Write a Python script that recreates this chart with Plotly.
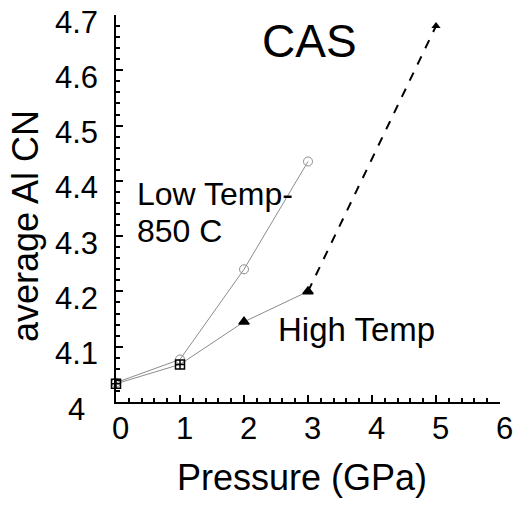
import plotly.graph_objects as go

# Pressure (GPa) and average Al coordination number
low_p = [0, 1, 2, 3]
low_cn = [4.035, 4.077, 4.240, 4.435]

high_p = [0, 1, 2, 3]
high_cn = [4.033, 4.068, 4.145, 4.200]

ext_p = [3, 5]
ext_cn = [4.200, 4.680]

high_symbols = ["square-cross-open", "square-cross-open", "triangle-up", "triangle-up"]

x_ticks = [0, 1, 2, 3, 4, 5, 6]
x_ticktext = ["0", "1", "2", "3", "4", "5", "6"]
y_ticks = [4, 4.1, 4.2, 4.3, 4.4, 4.5, 4.6, 4.7]
y_ticktext = ["4", "4.1", "4.2", "4.3", "4.4", "4.5", "4.6", "4.7"]

FONT = "Liberation Sans, Arial, sans-serif"

fig = go.Figure()

fig.add_trace(go.Scatter(
    x=low_p, y=low_cn, mode="lines+markers",
    line=dict(color="#8c8c8c", width=1),
    marker=dict(symbol="circle-open", size=9, color="#8c8c8c", line=dict(width=1)),
    showlegend=False, cliponaxis=False,
))

fig.add_trace(go.Scatter(
    x=ext_p, y=ext_cn, mode="lines+markers",
    line=dict(color="black", width=2, dash="dash"),
    marker=dict(symbol="triangle-up", size=8, color="black"),
    showlegend=False, cliponaxis=False,
))

fig.add_trace(go.Scatter(
    x=high_p, y=high_cn, mode="lines+markers",
    line=dict(color="#8c8c8c", width=1),
    marker=dict(symbol=high_symbols, size=9, color="black", line=dict(width=1.5, color="black")),
    showlegend=False, cliponaxis=False,
))

axis_common = dict(
    showline=True, linecolor="black", linewidth=2,
    ticks="inside", ticklen=7, tickwidth=1.5, tickcolor="black",
    showgrid=False, zeroline=False, showticklabels=False,
)

fig.update_xaxes(
    range=[0, 6], tickvals=x_ticks,
    minor=dict(dtick=0.2, ticks="inside", ticklen=4, tickwidth=1.5, tickcolor="black"),
    **axis_common,
)
fig.update_yaxes(
    range=[4, 4.7], tickvals=y_ticks,
    minor=dict(dtick=0.02, ticks="inside", ticklen=4, tickwidth=1.5, tickcolor="black"),
    **axis_common,
)

def label(text, x, y, size, xanchor="left", xref="x", yref="y", angle=0, xshift=0, yshift=0):
    fig.add_annotation(
        text=text, x=x, y=y, xref=xref, yref=yref, showarrow=False,
        xanchor=xanchor, yanchor="middle", textangle=angle,
        xshift=xshift, yshift=yshift,
        font=dict(family=FONT, size=size, color="black"),
    )

# tick labels, centred under / beside their ticks
for v, t in zip(x_ticks, x_ticktext):
    label(t, v, -0.0672, 31, xanchor="center", yref="paper", xshift=4)
for v, t in zip(y_ticks, y_ticktext):
    label(t, -0.1016, v, 31, xanchor="center", xref="paper", yshift=-7)

label("CAS", 3.03, 4.653, 46, xanchor="center")
label("Low Temp-", 0.29, 4.376, 32)
label("850 C", 0.29, 4.309, 32)
label("High Temp", 2.5, 4.132, 33)
label("Pressure (GPa)", 0.484, -0.196, 36, xanchor="center", xref="paper", yref="paper")
label("average Al CN", -0.234, 0.455, 36, xanchor="center", xref="paper", yref="paper", angle=-90)

fig.update_layout(
    width=517, height=506,
    margin=dict(l=116, r=17, t=15, b=104),
    paper_bgcolor="white", plot_bgcolor="white",
)

fig.write_html("out.html")
